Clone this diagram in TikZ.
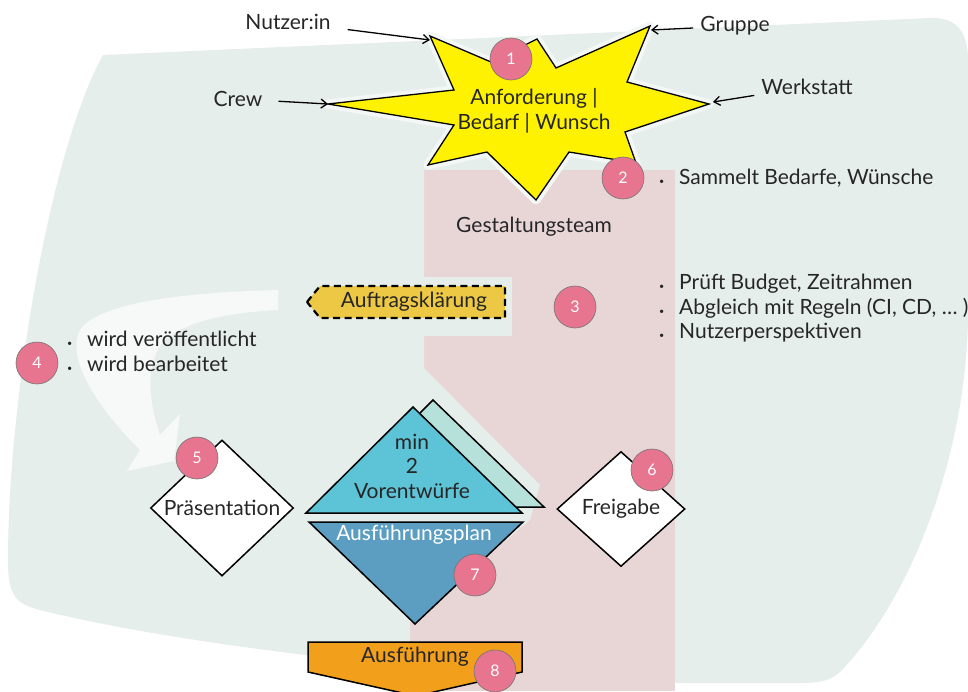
\documentclass[tikz,border=0pt]{standalone}
\usepackage{fontspec}
\setmainfont{Lato}
\usetikzlibrary{arrows.meta,shapes.geometric}
\definecolor{bgmint}{HTML}{E6EEEB}
\definecolor{teampink}{HTML}{E8D6D7}
\definecolor{staryellow}{HTML}{FFF200}
\definecolor{badge}{HTML}{E8758F}
\definecolor{clarify}{HTML}{EDC845}
\definecolor{draftblue}{HTML}{5DC3D6}
\definecolor{draftback}{HTML}{B6E1DA}
\definecolor{planblue}{HTML}{5B9EC1}
\definecolor{doorange}{HTML}{F2A01B}
\definecolor{swoosh}{HTML}{F6F9F8}
\newcommand{\itm}{\makebox[20pt][l]{\fontsize{9}{9}\selectfont\textbullet}}
\begin{document}
\begin{tikzpicture}[x=1pt,y=-1pt,
    txt/.style={font=\fontsize{21}{24.5}\selectfont, text=black!85, inner sep=1pt},
    num/.style={circle, fill=badge, draw=black!55, line width=0.6pt, minimum size=42pt, inner sep=0pt, text=white, font=\fontsize{16}{18}\selectfont},
    feed/.style={-{Straight Barb[length=6pt,width=9pt]}, line width=1.3pt},
    rim/.style={draw=black, line width=1.5pt, line join=miter},
    choice/.style={diamond, rim, fill=white, inner sep=0pt, txt}]
    \useasboundingbox (0,0) rectangle (968,691);
    % background areas
    \fill[bgmint] (103,55) -- (930,18) .. controls (955,17) and (968,30) .. (968,60) -- (968,320)
        .. controls (965,460) and (910,600) .. (840,672) .. controls (830,682) and (815,683) .. (800,683)
        -- (675,683) .. controls (500,680) and (200,650) .. (40,610) .. controls (15,604) and (8,595) .. (8,560)
        .. controls (8,400) and (50,150) .. (103,55) -- cycle;
    \fill[teampink] (410,170) rectangle (675,691);
    \fill[bgmint] (405,165) -- (424,165) -- (424,368) -- (540,485) -- (530,520) -- (410,622) -- (405,622) -- cycle;
    \fill[bgmint] (300,277) rectangle (512,336);
    \fill[swoosh] (278,290) .. controls (200,292) and (100,300) .. (80,330) .. controls (65,360) and (100,410) .. (140,450)
        -- (127,471) -- (174,461) -- (180,414) -- (160,435) .. controls (148,400) and (145,360) .. (165,340)
        .. controls (190,318) and (240,312) .. (278,310) -- cycle;
    % star
    \coordinate (tipA) at (430,40);
    \coordinate (tipB) at (651,30);
    \coordinate (tipC) at (328,104);
    \coordinate (tipD) at (713,102);
    \draw[bgmint!50!white, line width=9pt, line join=round] (430,36) -- (491,62) -- (537,39) -- (556,68) -- (650,26) -- (627,82) -- (709,104)
        -- (625,132) -- (636,163) -- (569,152) -- (536,200) -- (487,152) -- (428,165) -- (454,125) -- (328,104) -- (454,90) -- cycle;
    \filldraw[fill=staryellow, draw=black, line width=1.3pt] (430,36) -- (491,62) -- (537,39) -- (556,68) -- (650,26) -- (627,82) -- (709,104)
        -- (625,132) -- (636,163) -- (569,152) -- (536,200) -- (487,152) -- (428,165) -- (454,125) -- (328,104) -- (454,90) -- cycle;
    \node[txt, align=center] (req) at (534,111) {Anforderung |\\Bedarf | Wunsch};
    \node[txt] (nutzer) at (288,22) {Nutzer:in};
    \node[txt] (gruppe) at (735,26) {Gruppe};
    \node[txt] (crew) at (238,99) {Crew};
    \node[txt] (werk) at (807,87) {Werkstatt};
    \draw[feed, shorten <=16pt] (nutzer) -- (tipA);
    \draw[feed, shorten <=6pt] (gruppe) -- (tipB);
    \draw[feed, shorten <=15pt] (crew) -- (tipC);
    \draw[feed, shorten <=6pt] (werk) -- (tipD);
    \node[txt] (team) at (534,227) {Gestaltungsteam};
    % clarification
    \filldraw[fill=clarify, draw=black, line width=2.2pt, dash pattern=on 7pt off 4.5pt] (307,302) -- (320,286) -- (505,286) -- (505,318) -- (320,318) -- cycle;
    \node[txt] (klar) at (414,302) {Auftragsklärung};
    % drafts and plan
    \filldraw[fill=draftback, rim] (433,400) -- (544,507) -- (326,507) -- cycle;
    \filldraw[fill=draftblue, rim] (413,407) -- (522,513) -- (306,513) -- cycle;
    \node[txt, align=center] (drafts) at (412,466) {min\\2\\Vorentwürfe};
    \filldraw[fill=planblue, rim] (309,522) -- (523,522) -- (415,624) -- cycle;
    \node[txt, text=white] (plan) at (414,535) {Ausführungsplan};
    \node[choice, minimum width=143pt, minimum height=129pt] (praes) at (222,508) {Präsentation};
    \node[choice, minimum width=128pt, minimum height=115pt] (frei) at (621,509) {\raisebox{-9pt}{Freigabe}};
    % execution
    \filldraw[fill=doorange, rim] (308,642) -- (522,642) -- (522,672) -- (416,696) -- (308,672) -- cycle;
    \node[txt] (ausf) at (415,657) {Ausführung};
    % notes
    \node[txt, anchor=west, align=left] (note2) at (658,178) {\itm Sammelt Bedarfe, Wünsche};
    \node[txt, anchor=north west, align=left] (note3) at (658,273) {\itm Prüft Budget, Zeitrahmen\\\itm Abgleich mit Regeln (CI, CD, … )\\\itm Nutzerperspektiven};
    \node[txt, anchor=north west, align=left] (note4) at (66,330) {\itm wird veröffentlicht\\\itm wird bearbeitet};
    % numbers
    \node[num] (n1) at (511,59) {1};
    \node[num] (n2) at (623,178) {2};
    \node[num] (n3) at (575,307) {3};
    \node[num] (n4) at (37,363) {4};
    \node[num] (n5) at (197,458) {5};
    \node[num] (n6) at (652,470) {6};
    \node[num] (n7) at (475,575) {7};
    \node[num] (n8) at (495,671) {8};
\end{tikzpicture}
\end{document}
